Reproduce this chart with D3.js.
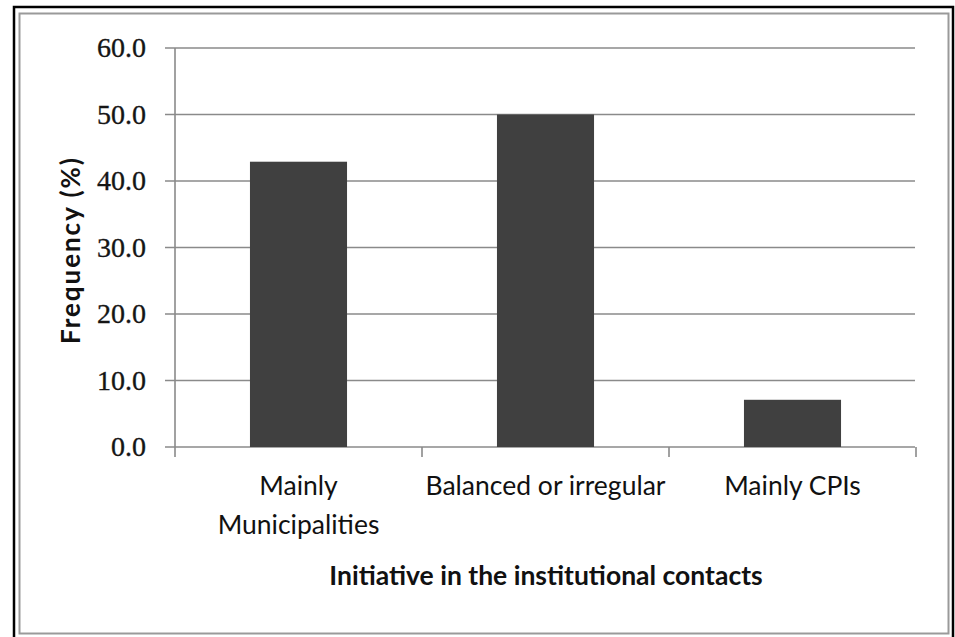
<!DOCTYPE html>
<html>
<head>
<meta charset="utf-8">
<script src="https://cdn.jsdelivr.net/npm/d3@7"></script>
<style>
  html, body { margin: 0; padding: 0; background: #fff; }
  svg { display: block; }
</style>
</head>
<body>
<svg id="chart" width="955" height="637"></svg>
<script>
// Share of institutional contacts by who takes the initiative
const categories = [["Mainly", "Municipalities"], ["Balanced or irregular"], ["Mainly CPIs"]];
const categoryKeys = ["Mainly Municipalities", "Balanced or irregular", "Mainly CPIs"];
const frequency = [42.9, 50.0, 7.1];
const yTicks = [0, 10, 20, 30, 40, 50, 60];
const xTitle = "Initiative in the institutional contacts";
const yTitle = "Frequency (%)";

const svg = d3.select("#chart");

// frame: outer black border and inner grey border
svg.append("rect").attr("x", 14).attr("y", 7).attr("width", 939).attr("height", 640)
  .attr("fill", "#fff").attr("stroke", "#000").attr("stroke-width", 2.5);
svg.append("rect").attr("x", 19.5).attr("y", 13.5).attr("width", 929).attr("height", 620)
  .attr("fill", "none").attr("stroke", "#9a9a9a").attr("stroke-width", 2);

const plot = { left: 175, right: 916, top: 48, bottom: 447 };

const x = d3.scaleBand()
  .domain(categoryKeys)
  .range([plot.left, plot.right])
  .paddingInner(0.607)
  .paddingOuter(0.3035);

const y = d3.scaleLinear().domain([0, 60]).range([plot.bottom, plot.top]);

// horizontal gridlines with left tick stubs
svg.append("g").selectAll("line").data(yTicks).join("line")
  .attr("x1", plot.left - 10).attr("x2", plot.right - 1)
  .attr("y1", d => y(d)).attr("y2", d => y(d))
  .attr("stroke", "#8a8a8a").attr("stroke-width", 1.6);

// y axis line
svg.append("line")
  .attr("x1", plot.left).attr("x2", plot.left)
  .attr("y1", y(60)).attr("y2", y(0))
  .attr("stroke", "#8a8a8a").attr("stroke-width", 1.6);

// x axis ticks at category boundaries
const step = x.step();
const bounds = d3.range(categoryKeys.length + 1).map(i => plot.left + i * step);
svg.append("g").selectAll("line").data(bounds).join("line")
  .attr("x1", d => d).attr("x2", d => d)
  .attr("y1", y(0)).attr("y2", y(0) + 10)
  .attr("stroke", "#8a8a8a").attr("stroke-width", 1.6);

// bars
svg.append("g").selectAll("rect").data(frequency).join("rect")
  .attr("x", (d, i) => x(categoryKeys[i]))
  .attr("width", x.bandwidth())
  .attr("y", d => y(d))
  .attr("height", d => y(0) - y(d))
  .attr("fill", "#404040");

// y tick labels
svg.append("g").selectAll("text").data(yTicks).join("text")
  .attr("x", 146).attr("y", d => y(d)).attr("dy", "0.33em")
  .attr("text-anchor", "end")
  .attr("font-family", "'Liberation Serif', serif")
  .attr("font-size", 28).attr("fill", "#151515")
  .attr("stroke", "#151515").attr("stroke-width", 0.35)
  .text(d3.format(".1f"));

// category labels
const catG = svg.append("g");
categories.forEach((lines, i) => {
  const cx = x(categoryKeys[i]) + x.bandwidth() / 2;
  const t = catG.append("text")
    .attr("x", cx)
    .attr("y", 495)
    .attr("text-anchor", "middle")
    .attr("font-family", "Lato, sans-serif")
    .attr("font-size", 26.5).attr("fill", "#111");
  lines.forEach((ln, j) => {
    t.append("tspan").attr("x", cx)
      .attr("dy", j === 0 ? 0 : 39).text(ln);
  });
});

// axis titles
svg.append("text")
  .attr("x", 546).attr("y", 585)
  .attr("text-anchor", "middle")
  .attr("font-family", "Lato, sans-serif").attr("font-weight", "bold")
  .attr("font-size", 26.5).attr("fill", "#111")
  .text(xTitle);

svg.append("text")
  .attr("transform", "translate(80,251) rotate(-90)")
  .attr("text-anchor", "middle")
  .attr("font-family", "Lato, sans-serif").attr("font-weight", "bold")
  .attr("font-size", 26).attr("fill", "#111")
  .attr("textLength", 186)
  .text(yTitle);
</script>
</body>
</html>
